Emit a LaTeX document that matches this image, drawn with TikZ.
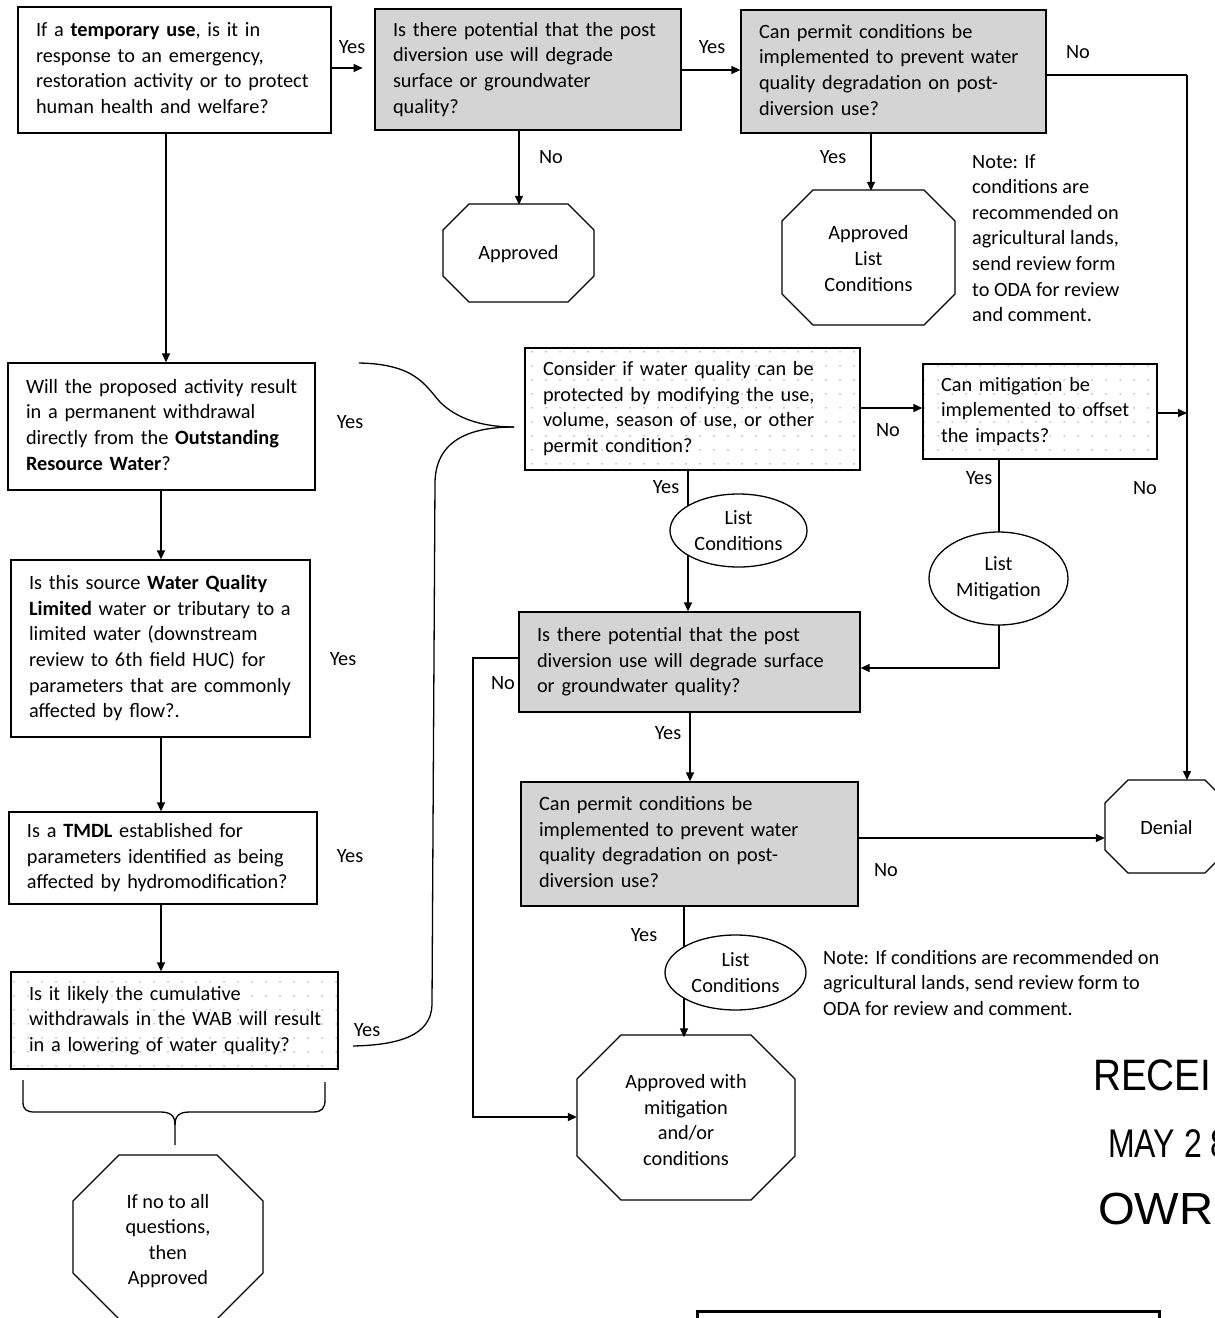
\documentclass[tikz,border=0pt]{standalone}
\usepackage{fontspec}
\setmainfont{Carlito}
\newfontfamily\stampfont{Liberation Sans}
\usetikzlibrary{arrows.meta,shapes.geometric,patterns.meta}
\tikzdeclarepattern{name=sdots, type=uncolored,
  bounding box={(-1pt,-1pt) and (1pt,1pt)},
  tile size={(14pt,14pt)},
  code={\pgfpathcircle{\pgfpointorigin}{0.75pt}\pgfusepath{fill}}}
\newcommand\fs{\fontsize{20.3}{25.6}\selectfont}
\newcommand\tl[1]{\begin{tabular}{@{}l@{}}#1\end{tabular}}
\newcommand\myoct[5]{\draw[ln] (#1+#5,#2) -- (#3-#5,#2) -- (#3,#2+#5) -- (#3,#4-#5) -- (#3-#5,#4) -- (#1+#5,#4) -- (#1,#4-#5) -- (#1,#2+#5) -- cycle;}
\begin{document}
\begin{tikzpicture}[x=1pt,y=-1pt,
  ln/.style={line width=1.3pt},
  arr/.style={ln, -{Triangle[length=9pt,width=8pt]}},
  box/.style={draw, ln, align=left, inner xsep=18pt, inner ysep=0pt, font=\fs},
  gbox/.style={box, fill=black!17},
  dbox/.style={box, pattern={sdots}, pattern color=black!45},
  lab/.style={font=\fs, inner sep=0pt},
  octn/.style={draw=none, align=center, font=\fs, inner sep=0pt},
  ell/.style={ellipse, draw, ln, fill=white, align=center, font=\fs, inner sep=-12pt},
  note/.style={font=\fs, align=left, inner sep=0pt, anchor=north west}]
\useasboundingbox (0,0) rectangle (1215,1318);

% ---------- left column boxes ----------
\node[box, minimum width=313pt, text width=277pt, minimum height=126pt] (A) at (174.5,70) {\tl{If a \textbf{temporary use}, is it in\\response to an emergency,\\restoration activity or to protect\\human health and welfare?}};
\node[box, minimum width=307pt, text width=271pt, minimum height=127pt] (D) at (161.5,426.5) {\tl{Will the proposed activity result\\in a permanent withdrawal\\directly from the \textbf{Outstanding}\\\textbf{Resource Water}?}};
\node[box, minimum width=299pt, text width=263pt, minimum height=177pt] (E) at (160.5,648.5) {\tl{Is this source \textbf{Water Quality}\\\textbf{Limited} water or tributary to a\\limited water (downstream\\review to 6th field HUC) for\\parameters that are commonly\\affected by flow?.}};
\node[box, minimum width=308pt, text width=272pt, minimum height=92pt] (F) at (163,858) {\tl{Is a \textbf{TMDL} established for\\parameters identified as being\\affected by hydromodification?}};
\node[dbox, minimum width=327pt, text width=291pt, minimum height=97pt] (G) at (174.5,1020.5) {\tl{Is it likely the cumulative\\withdrawals in the WAB will result\\in a lowering of water quality?}};

% ---------- top row ----------
\node[gbox, minimum width=306pt, text width=270pt, minimum height=121pt] (B) at (528,69.5) {\tl{Is there potential that the post\\diversion use will degrade\\surface or groundwater\\quality?}};
\node[gbox, minimum width=305pt, text width=269pt, minimum height=123pt] (C) at (893.5,71.5) {\tl{Can permit conditions be\\implemented to prevent water\\quality degradation on post-\\diversion use?}};

% ---------- middle ----------
\node[dbox, minimum width=335pt, text width=299pt, minimum height=122pt] (I) at (692.5,409) {\tl{Consider if water quality can be\\protected by modifying the use,\\volume, season of use, or other\\permit condition?}};
\node[dbox, minimum width=234pt, text width=198pt, minimum height=95pt] (J) at (1040,411.5) {\tl{Can mitigation be\\implemented to offset\\the impacts?}};
\node[gbox, minimum width=341pt, text width=305pt, minimum height=100pt] (K) at (689.5,662) {\tl{Is there potential that the post\\diversion use will degrade surface\\or groundwater quality?}};
\node[gbox, minimum width=337pt, text width=301pt, minimum height=124pt] (L) at (689.5,844) {\tl{Can permit conditions be\\implemented to prevent water\\quality degradation on post-\\diversion use?}};

% ---------- octagons ----------
\myoct{443}{204}{594}{302}{26}
\node[octn, minimum width=151pt, minimum height=98pt] (ap1) at (518.5,254) {Approved};
\myoct{782}{190}{955}{325}{31}
\node[octn, minimum width=173pt, minimum height=135pt] (ap2) at (868.5,258.5) {Approved\\List\\Conditions};
\myoct{1105}{780}{1228}{873}{23}
\node[octn, minimum width=123pt, minimum height=93pt] (den) at (1166.5,827.5) {Denial};
\myoct{73}{1155}{263}{1319}{46}
\node[octn, minimum width=190pt, minimum height=164pt] (ap3) at (168,1241) {If no to all\\questions,\\then\\Approved};
\myoct{577}{1035}{795}{1200}{44}
\node[octn, minimum width=218pt, minimum height=165pt] (apm) at (686,1120) {Approved with\\mitigation\\and/or\\conditions};

% ---------- connectors ----------
\draw[arr] ([yshift=2pt]A.east) -- ++(31,0) coordinate (ab);
\draw[arr] (B.east |- 0,70) -- (C.west |- 0,70);
\draw[ln] (C.east |- 0,75) -- (1187,75) coordinate (cr);
\draw[arr] (cr) -- (1187,780);
\draw[arr] (519,130) -- (ap1.north -| 519,0);
\draw[arr] (871,133) -- (ap2.north -| 871,0);
\draw[arr] (166,133) -- (D.north -| 166,0);
\draw[arr] (D.south -| 161,0) -- (E.north -| 161,0);
\draw[arr] (E.south -| 161,0) -- (F.north -| 161,0);
\draw[arr] (F.south -| 161,0) -- (G.north -| 161,0);
\draw[arr] (I.east |- 0,408) -- (J.west |- 0,408);
\draw[arr] (J.east |- 0,413) -- (1187,413);
\draw[arr] (688,470) -- (K.north -| 688,0);
\draw[arr] (J.south -| 999,0) -- (999,668) -- (K.east |- 0,668);
\draw[arr] (K.west |- 0,658) -- (473,658) -- (473,1117) -- (apm.west |- 0,1117);
\draw[arr] (K.south -| 690,0) -- (L.north -| 690,0);
\draw[arr] (L.east |- 0,838) -- (den.west |- 0,838);
\draw[arr] (L.south -| 684,0) -- (apm.north -| 684,0);

% ---------- curly joins ----------
\draw[ln] (359,363) .. controls (415,364) and (425,385) .. (440,402) .. controls (458,420) and (485,427) .. (514,427);
\draw[ln] (514,427) .. controls (470,427) and (436,440) .. (435,482) -- (432,1005) .. controls (431,1035) and (400,1045) .. (353,1046);
\draw[ln] (23,1080) -- (23,1102) .. controls (23,1110) and (27,1112) .. (35,1112) -- (160,1112) .. controls (170,1112) and (175,1115) .. (175,1125) -- (175,1145);
\draw[ln] (175,1125) .. controls (175,1115) and (180,1112) .. (190,1112) -- (313,1112) .. controls (322,1112) and (325,1108) .. (325,1100) -- (325,1082);

% ---------- ellipses ----------
\node[ell, minimum width=137pt, minimum height=73pt] (lc1) at (738.5,530.5) {List\\Conditions};
\node[ell, minimum width=139pt, minimum height=93pt] (lm) at (998.5,578.5) {List\\Mitigation};
\node[ell, minimum width=141pt, minimum height=75pt] (lc2) at (735.5,972.5) {List\\Conditions};

% ---------- labels ----------
\node[lab] (y1) at (352,47) {Yes};
\node[lab] (y2) at (712,47) {Yes};
\node[lab] (n1) at (1078,52) {No};
\node[lab] (n2) at (551,157) {No};
\node[lab] (y3) at (833,157) {Yes};
\node[lab] (y4) at (350,422) {Yes};
\node[lab] (n3) at (888,430) {No};
\node[lab] (y5) at (979,478) {Yes};
\node[lab] (n4) at (1145,488) {No};
\node[lab] (y6) at (666,487) {Yes};
\node[lab] (y7) at (343,659) {Yes};
\node[lab] (n5) at (503,683) {No};
\node[lab] (y8) at (668,733) {Yes};
\node[lab] (y9) at (350,856) {Yes};
\node[lab] (n6) at (886,870) {No};
\node[lab] (y10) at (644,935) {Yes};
\node[lab] (y11) at (367,1030) {Yes};

% ---------- notes ----------
\node[note] (note1) at (972,154) {Note: If\\conditions are\\recommended on\\agricultural lands,\\send review form\\to ODA for review\\and comment.};
\node[note] (note2) at (823,950) {Note: If conditions are recommended on\\agricultural lands, send review form to\\ODA for review and comment.};

% ---------- stamp ----------
\node[anchor=base west, inner sep=0pt, font=\stampfont\fontsize{44}{44}\selectfont] (st1) at (1093,1090) {\scalebox{0.88}[1]{RECEI}};
\node[anchor=base west, inner sep=0pt, font=\stampfont\fontsize{40}{40}\selectfont] (st2) at (1108,1157) {\scalebox{0.8}[1]{MAY 2 8}};
\node[anchor=base west, inner sep=0pt, font=\stampfont\fontsize{45}{45}\selectfont] (st3) at (1098,1224) {\scalebox{1.05}[1]{OWR}};
\draw[line width=3pt] (697,1330) -- (697,1311) -- (1159,1311) -- (1159,1330);
\end{tikzpicture}
\end{document}
